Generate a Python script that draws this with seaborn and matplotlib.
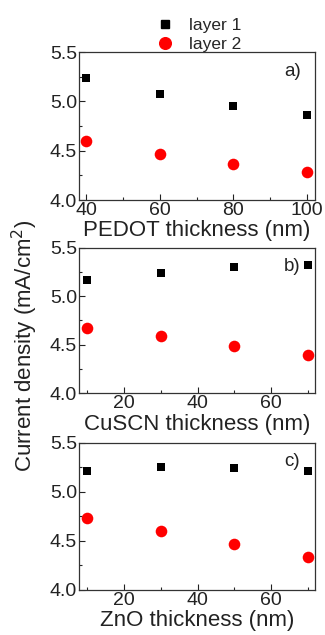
import matplotlib
matplotlib.use("Agg")
import matplotlib.pyplot as plt
import seaborn as sns
import pandas as pd
from matplotlib.ticker import MultipleLocator
from matplotlib.lines import Line2D

sns.set_theme(style="ticks")
plt.rcParams['font.family'] = ['Liberation Sans', 'DejaVu Sans']

pedot_x = [40, 60, 80, 100]
pedot_l1 = [5.24, 5.07, 4.95, 4.86]
pedot_l2 = [4.60, 4.47, 4.37, 4.28]

cuscn_x = [10, 30, 50, 70]
cuscn_l1 = [5.17, 5.24, 5.30, 5.32]
cuscn_l2 = [4.67, 4.59, 4.49, 4.39]

zno_x = [10, 30, 50, 70]
zno_l1 = [5.21, 5.25, 5.24, 5.21]
zno_l2 = [4.73, 4.60, 4.47, 4.34]

panels = [
    ("PEDOT thickness (nm)", "a)", pedot_x, pedot_l1, pedot_l2, (38, 102.2), 20, 10),
    ("CuSCN thickness (nm)", "b)", cuscn_x, cuscn_l1, cuscn_l2, (7.7, 72), 20, 10),
    ("ZnO thickness (nm)", "c)", zno_x, zno_l1, zno_l2, (7.7, 72), 20, 10),
]

fig = plt.figure(figsize=(3.25, 6.35), dpi=100)
positions = [
    [0.243, 0.685, 0.726, 0.233],
    [0.243, 0.381, 0.726, 0.229],
    [0.243, 0.071, 0.726, 0.232],
]

fs = 14
for pos, (xl, lab, x, l1, l2, xlim, maj, mnr) in zip(positions, panels):
    ax = fig.add_axes(pos)
    d1 = pd.DataFrame({"x": x, "y": l1})
    d2 = pd.DataFrame({"x": x, "y": l2})
    sns.scatterplot(data=d1, x="x", y="y", ax=ax, marker="s", color="black",
                    s=40, linewidth=0)
    sns.scatterplot(data=d2, x="x", y="y", ax=ax, marker="o", color="#ff0000",
                    s=70, linewidth=0)
    ax.set_xlim(*xlim)
    ax.set_ylim(4.0, 5.5)
    ax.xaxis.set_major_locator(MultipleLocator(maj))
    ax.xaxis.set_minor_locator(MultipleLocator(mnr))
    ax.yaxis.set_major_locator(MultipleLocator(0.5))
    ax.yaxis.set_minor_locator(MultipleLocator(0.25))
    ax.yaxis.set_major_formatter(matplotlib.ticker.FormatStrFormatter('%.1f'))
    ax.tick_params(which="major", direction="in", length=4, width=0.8,
                   labelsize=fs, pad=1.5, colors="#222222")
    ax.tick_params(which="minor", direction="in", length=2.5, width=0.8)
    for sp in ax.spines.values():
        sp.set_linewidth(0.9)
        sp.set_color("#333333")
        sp.set_visible(True)
    ax.set_xlabel(xl, fontsize=16, labelpad=1, color="#222222")
    ax.set_ylabel("")
    ax.text(0.905, 0.87, lab, transform=ax.transAxes, fontsize=fs - 0.5,
            ha="center", va="center", color="#222222")

fig.text(25 / 325, 1 - 346 / 635, "Current density (mA/cm$^2$)",
         rotation=90, ha="center", va="center", fontsize=16, color="#222222")

handles = [
    Line2D([], [], marker="s", color="black", linestyle="none", markersize=6.4),
    Line2D([], [], marker="o", color="#ff0000", linestyle="none", markersize=8.4),
]
fig.legend(handles, ["layer 1", "layer 2"], loc="upper left",
           bbox_to_anchor=(146 / 325, 1 - 9 / 635), frameon=False,
           fontsize=12.5, handletextpad=0.78, labelspacing=0.22,
           borderpad=0, handlelength=1.2)

fig.savefig("out.png", dpi=100)
